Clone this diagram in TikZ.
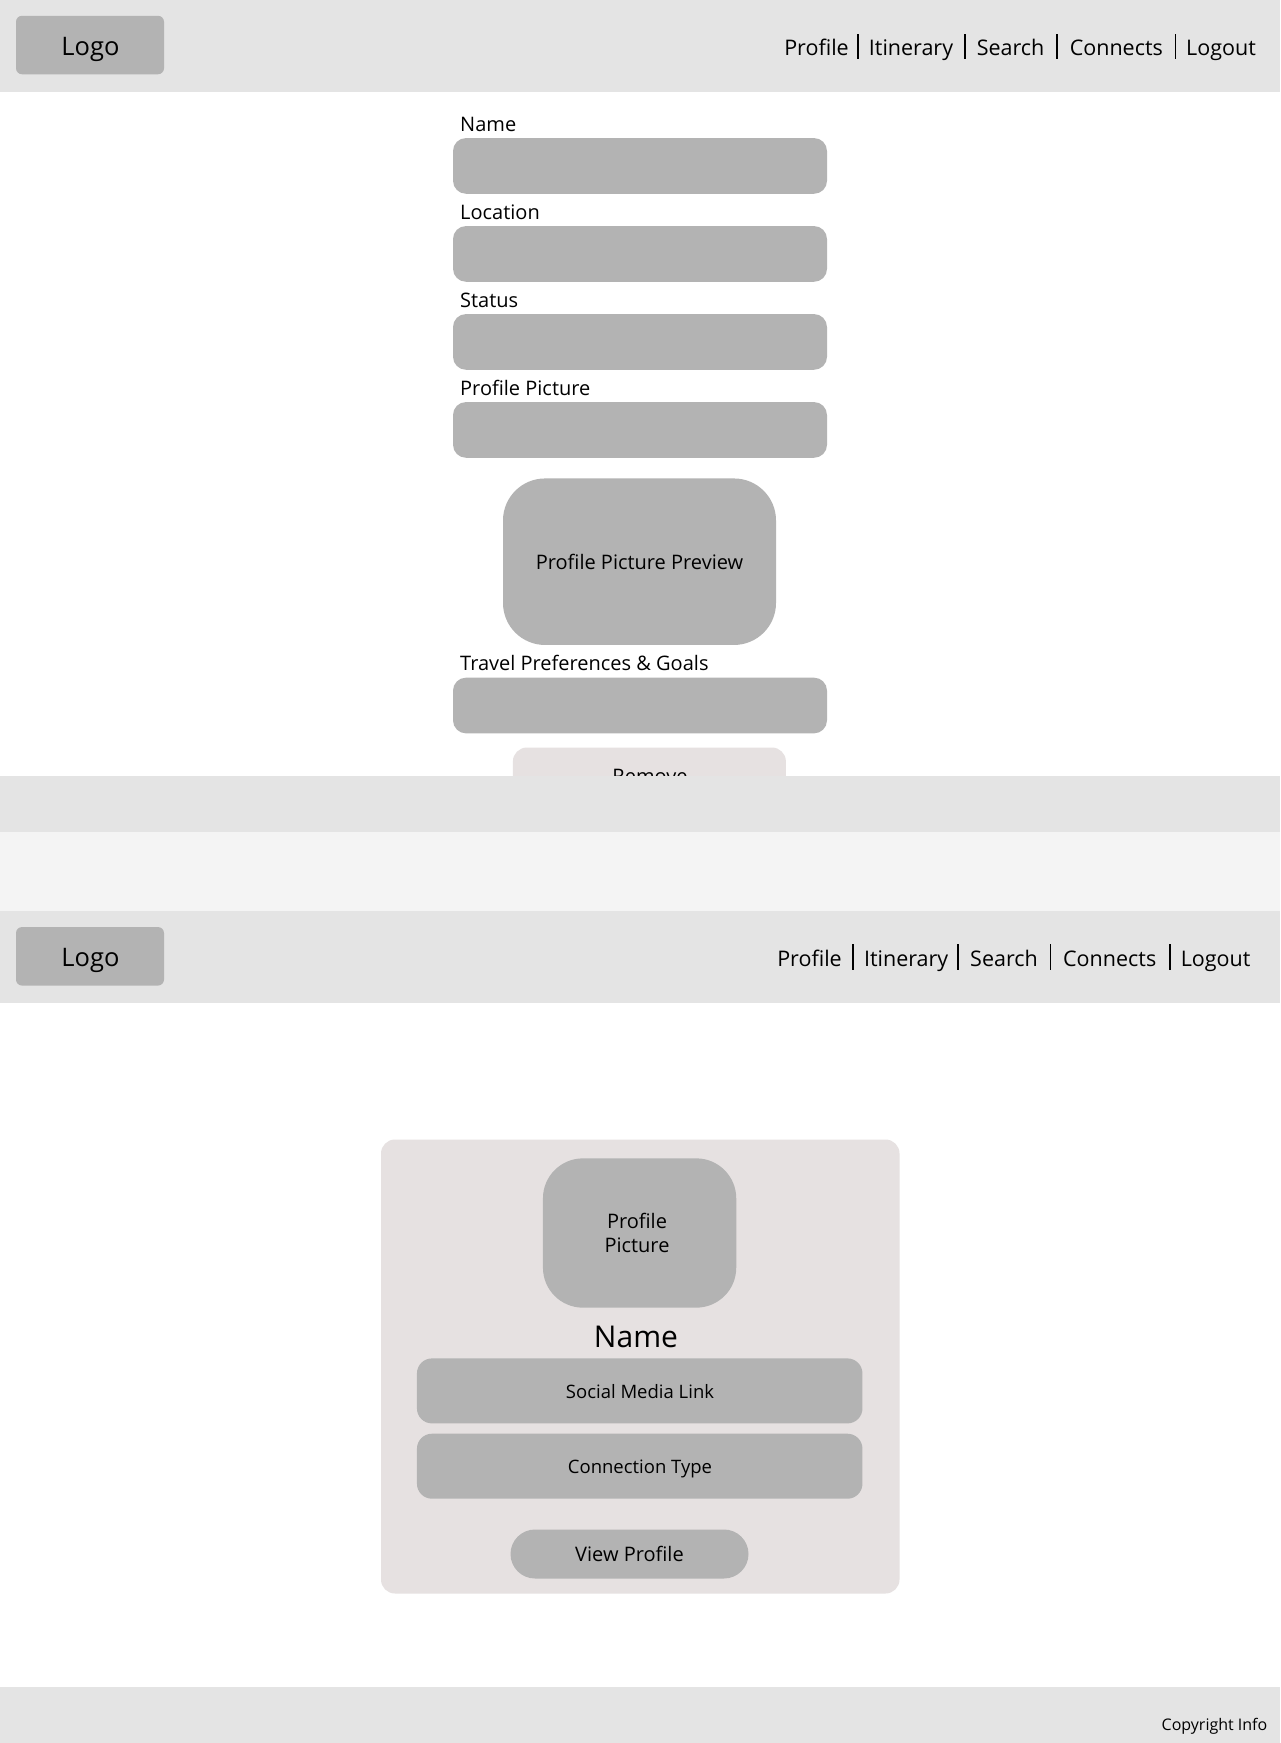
\documentclass[tikz,border=0pt]{standalone}
\usepackage{fontspec}
\setmainfont{Open Sans}
\definecolor{hdrgray}{HTML}{E4E4E4}
\definecolor{boxgray}{HTML}{B3B3B3}
\definecolor{cardpink}{HTML}{E6E1E1}
\definecolor{lightband}{HTML}{F4F4F4}
\tikzset{
  band/.style={fill=hdrgray, draw=none},
  logobox/.style={fill=boxgray, draw=none, rounded corners=6pt, minimum width=148pt, minimum height=58.5pt, inner sep=0pt},
  logotxt/.style={anchor=base, inner sep=0pt, font=\fontsize{25.5}{30}\selectfont},
  navtxt/.style={anchor=base, inner sep=0pt, font=\fontsize{21.5}{26}\selectfont},
  navsep/.style={draw=black, line width=1.4pt},
  lbl/.style={anchor=base west, inner sep=0pt, font=\fontsize{20}{24}\selectfont},
  fieldbox/.style={fill=boxgray, draw=none, rounded corners=13pt, minimum width=374pt, minimum height=55.7pt, inner sep=0pt},
  boxtxt/.style={anchor=base, inner sep=0pt, font=\fontsize{20}{24}\selectfont},
  smalltxt/.style={anchor=base, inner sep=0pt, font=\fontsize{18.5}{22}\selectfont},
}
\begin{document}
\begin{tikzpicture}[x=1pt,y=-1pt]
\useasboundingbox (0,0) rectangle (1280,1743);
\fill[white] (0,0) rectangle (1280,1743);

% ---------- first screen ----------
\fill[band] (0,0) rectangle (1280,92);
\node[logobox] (logoA) at (90,45) {};
\node[logotxt] (logoAt) at (90.5,55) {Logo};
\node[navtxt] (navA1) at (816.5,55) {Profile};
\node[navtxt] (navA2) at (911,55) {Itinerary};
\node[navtxt] (navA3) at (1010.6,55) {Search};
\node[navtxt] (navA4) at (1116.3,55) {Connects};
\node[navtxt] (navA5) at (1221,55) {Logout};
\draw[navsep] (858,34) -- (858,59);
\draw[navsep] (965,34) -- (965,59);
\draw[navsep] (1057,34) -- (1057,59);
\draw[navsep] (1175.5,34) -- (1175.5,59);

\node[lbl] (lName) at (460,131) {Name};
\node[fieldbox] (fName) at (640,165.9) {};
\node[lbl] (lLoc) at (460,219) {Location};
\node[fieldbox] (fLoc) at (640,253.9) {};
\node[lbl] (lStat) at (460,307) {Status};
\node[fieldbox] (fStat) at (640,341.9) {};
\node[lbl] (lPic) at (460,395) {Profile Picture};
\node[fieldbox] (fPic) at (640,429.9) {};

\node[fill=boxgray, draw=none, rounded corners=42pt, minimum width=273pt, minimum height=166.5pt, inner sep=0pt] (preview) at (639.5,561.7) {};
\node[boxtxt] (previewt) at (639.5,569.6) {Profile Picture Preview};

\node[lbl] (lTrav) at (460,670) {Travel Preferences \& Goals};
\node[fieldbox] (fTrav) at (640,705.5) {};

\node[fill=cardpink, draw=none, rounded corners=14pt, minimum width=273pt, minimum height=56pt, inner sep=0pt] (remove) at (649.4,775.5) {};
\node[boxtxt] (removet) at (650,783.5) {Remove};

% ---------- separator bands ----------
\fill[band] (0,776) rectangle (1280,832);
\fill[lightband] (0,832) rectangle (1280,911);

% ---------- second screen ----------
\fill[band] (0,911) rectangle (1280,1003);
\node[logobox] (logoB) at (90,956.3) {};
\node[logotxt] (logoBt) at (90.5,966) {Logo};
\node[navtxt] (navB1) at (809.5,966) {Profile};
\node[navtxt] (navB2) at (906.2,966) {Itinerary};
\node[navtxt] (navB3) at (1004,966) {Search};
\node[navtxt] (navB4) at (1109.7,966) {Connects};
\node[navtxt] (navB5) at (1215.6,966) {Logout};
\draw[navsep] (853,944) -- (853,970);
\draw[navsep] (958,944) -- (958,970);
\draw[navsep] (1050.6,944) -- (1050.6,970);
\draw[navsep] (1170,944) -- (1170,970);

\node[fill=cardpink, draw=none, rounded corners=14pt, minimum width=518.5pt, minimum height=454pt, inner sep=0pt] (card) at (640.25,1366.5) {};
\node[fill=boxgray, draw=none, rounded corners=40pt, minimum width=193.3pt, minimum height=149.3pt, inner sep=0pt] (cardpic) at (639.6,1233) {};
\node[boxtxt] (cardpict1) at (637,1228) {Profile};
\node[boxtxt] (cardpict2) at (637,1252) {Picture};
\node[anchor=base, inner sep=0pt, font=\fontsize{30}{36}\selectfont] (cardname) at (636,1347) {Name};
\node[fill=boxgray, draw=none, rounded corners=15pt, minimum width=445.5pt, minimum height=65pt, inner sep=0pt] (social) at (639.7,1390.9) {};
\node[smalltxt] (socialt) at (640,1398.5) {Social Media Link};
\node[fill=boxgray, draw=none, rounded corners=15pt, minimum width=445.5pt, minimum height=65pt, inner sep=0pt] (conn) at (639.7,1466.2) {};
\node[smalltxt] (connt) at (640,1473.5) {Connection Type};
\node[fill=boxgray, draw=none, rounded corners=24.5pt, minimum width=238pt, minimum height=49pt, inner sep=0pt] (view) at (629.5,1554) {};
\node[boxtxt] (viewt) at (629.5,1561) {View Profile};

\fill[band] (0,1687) rectangle (1280,1743);
\node[anchor=base east, inner sep=0pt, font=\fontsize{16}{19}\selectfont] (copy) at (1267.5,1730) {Copyright Info};
\end{tikzpicture}
\end{document}
